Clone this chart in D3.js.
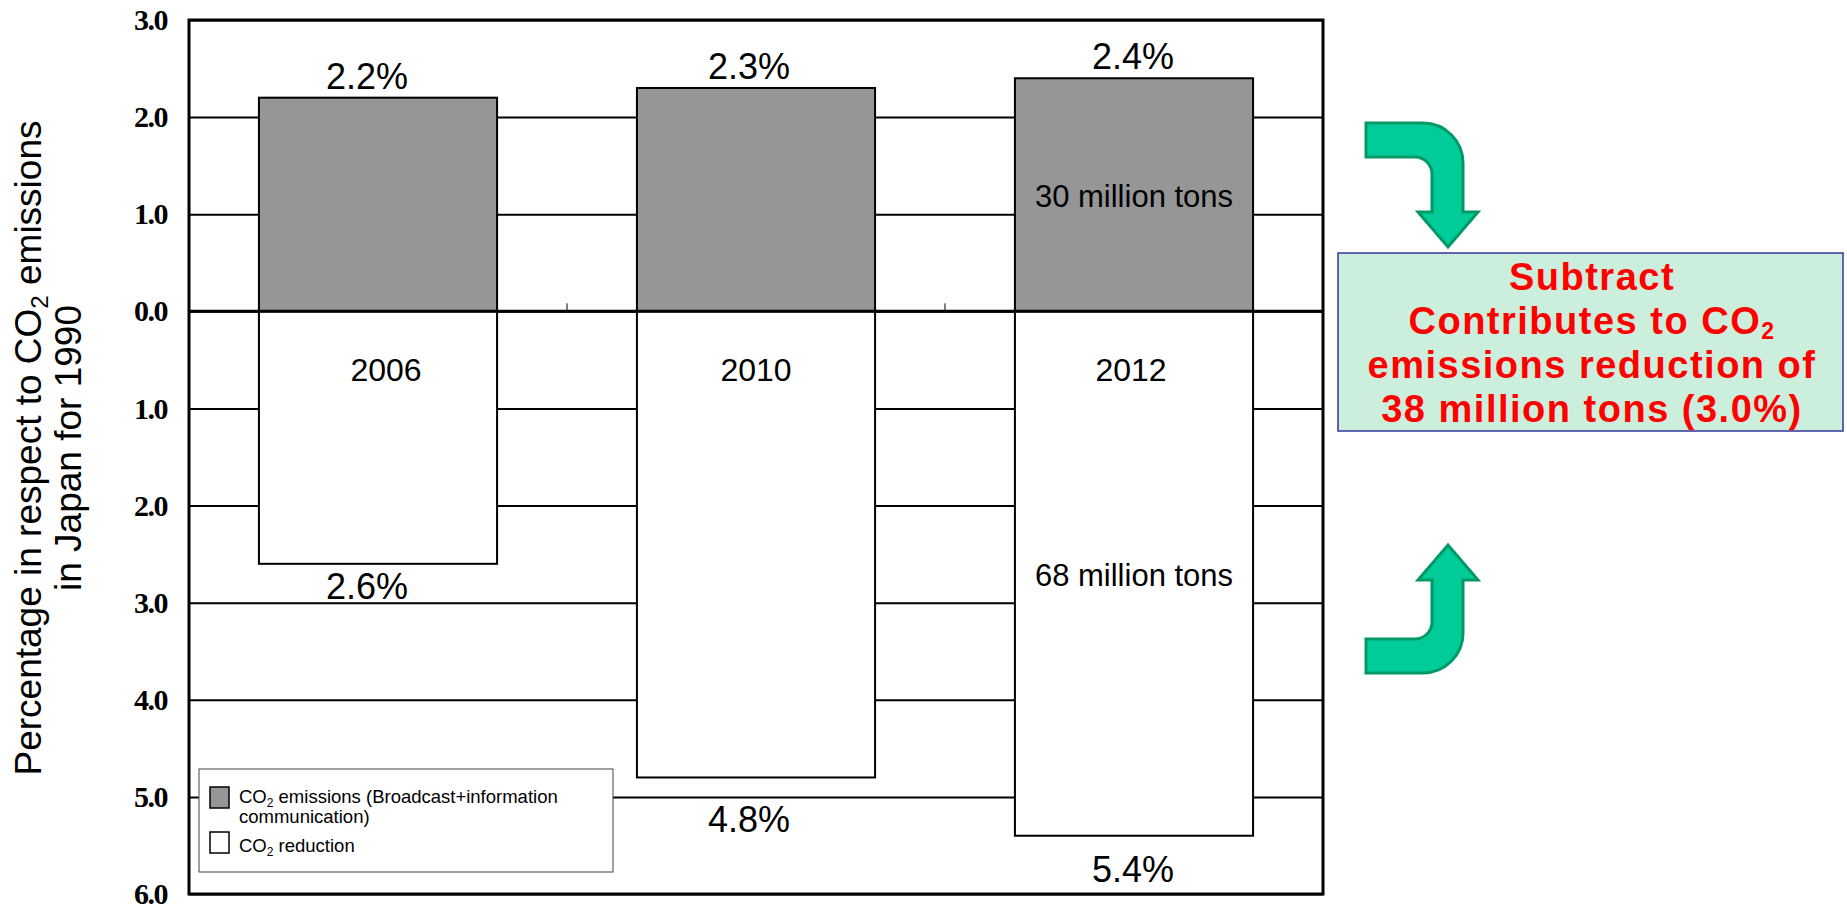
<!DOCTYPE html>
<html>
<head>
<meta charset="utf-8">
<script src="https://cdn.jsdelivr.net/npm/d3@7"></script>
<style>
  body { margin: 0; background: #fff; }
  svg { display: block; }
</style>
</head>
<body>
<svg id="chart" width="1847" height="910"></svg>
<script>
// ---- data ----
const categories = ["2006", "2010", "2012"];
const emissions = [2.2, 2.3, 2.4];          // CO2 emissions, % of Japan's 1990 total
const reductions = [2.6, 4.8, 5.4];         // CO2 reduction, % of Japan's 1990 total
const emissionLabels = ["2.2%", "2.3%", "2.4%"];
const reductionLabels = ["2.6%", "4.8%", "5.4%"];
const yTicks = [3, 2, 1, 0, -1, -2, -3, -4, -5, -6];
const tickLabels = ["3.0", "2.0", "1.0", "0.0", "1.0", "2.0", "3.0", "4.0", "5.0", "6.0"];
const tonsCategory = "2012";
const tonsLabels = ["30 million tons", "68 million tons"];
const summaryLines = ["Subtract", "Contributes to CO|2", "emissions reduction of", "38 million tons (3.0%)"];

// ---- layout ----
const plot = { left: 189, right: 1323, top: 20, bottom: 894 };
const valueNudge = [-11, -7, -1];      // horizontal shift of value labels
const bottomGap = [35, 55, 46];        // baseline distance below reduction bars
const yearNudge = [8, 0, -3];
const sans = "'Liberation Sans', Arial, sans-serif";

const svg = d3.select("#chart");

const x = d3.scaleBand()
  .domain(categories)
  .range([plot.left, plot.right])
  .paddingInner(0.37)
  .paddingOuter(0.185);

const y = d3.scaleLinear()
  .domain([3, -6])
  .range([plot.top, plot.bottom]);

// gridlines + tick labels
const axis = svg.append("g")
  .attr("transform", `translate(${plot.left},0)`)
  .call(d3.axisLeft(y)
    .tickValues(yTicks)
    .tickSize(-(plot.right - plot.left))
    .tickPadding(22)
    .tickFormat((d, i) => tickLabels[i]));
axis.select(".domain").remove();
axis.selectAll(".tick line").attr("stroke", "#000").attr("stroke-width", 2);
axis.selectAll(".tick text")
  .attr("fill", "#000")
  .style("font-family", "'Liberation Serif', 'Times New Roman', serif")
  .style("font-weight", "bold")
  .style("font-size", "30px")
  .style("letter-spacing", "-1.5px");

// emission bars (above zero)
svg.append("g").selectAll("rect")
  .data(categories)
  .join("rect")
  .attr("x", d => x(d))
  .attr("y", (d, i) => y(emissions[i]))
  .attr("width", x.bandwidth())
  .attr("height", (d, i) => y(0) - y(emissions[i]))
  .attr("fill", "#969696")
  .attr("stroke", "#000")
  .attr("stroke-width", 2);

// reduction bars (below zero)
svg.append("g").selectAll("rect")
  .data(categories)
  .join("rect")
  .attr("x", d => x(d))
  .attr("y", y(0))
  .attr("width", x.bandwidth())
  .attr("height", (d, i) => y(-reductions[i]) - y(0))
  .attr("fill", "#fff")
  .attr("stroke", "#000")
  .attr("stroke-width", 2);

// zero line with category separators
svg.append("line")
  .attr("x1", plot.left).attr("x2", plot.right)
  .attr("y1", y(0)).attr("y2", y(0))
  .attr("stroke", "#000").attr("stroke-width", 3);
svg.append("g").selectAll("line")
  .data(categories.slice(1))
  .join("line")
  .attr("x1", d => x(d) - (x.step() - x.bandwidth()) / 2)
  .attr("x2", d => x(d) - (x.step() - x.bandwidth()) / 2)
  .attr("y1", y(0)).attr("y2", y(0) - 8)
  .attr("stroke", "#000").attr("stroke-width", 1);

// plot frame
svg.append("rect")
  .attr("x", plot.left).attr("y", plot.top)
  .attr("width", plot.right - plot.left).attr("height", plot.bottom - plot.top)
  .attr("fill", "none").attr("stroke", "#000").attr("stroke-width", 3);

// value labels
const labels = svg.append("g").style("font-family", sans).attr("fill", "#000").attr("text-anchor", "middle");
labels.selectAll(".top")
  .data(categories)
  .join("text")
  .attr("class", "top")
  .attr("x", (d, i) => x(d) + x.bandwidth() / 2 + valueNudge[i])
  .attr("y", (d, i) => y(emissions[i]) - 9)
  .style("font-size", "36px")
  .text((d, i) => emissionLabels[i]);
labels.selectAll(".bottom")
  .data(categories)
  .join("text")
  .attr("class", "bottom")
  .attr("x", (d, i) => x(d) + x.bandwidth() / 2 + valueNudge[i])
  .attr("y", (d, i) => y(-reductions[i]) + bottomGap[i])
  .style("font-size", "36px")
  .text((d, i) => reductionLabels[i]);
labels.selectAll(".year")
  .data(categories)
  .join("text")
  .attr("class", "year")
  .attr("x", (d, i) => x(d) + x.bandwidth() / 2 + yearNudge[i])
  .attr("y", y(0) + 70)
  .style("font-size", "32px")
  .text(d => d);

const ti = categories.indexOf(tonsCategory);
labels.append("text")
  .attr("x", x(tonsCategory) + x.bandwidth() / 2)
  .attr("y", y(emissions[ti] / 2) + 12)
  .style("font-size", "31px")
  .text(tonsLabels[0]);
labels.append("text")
  .attr("x", x(tonsCategory) + x.bandwidth() / 2)
  .attr("y", y(-reductions[ti] / 2) + 12)
  .style("font-size", "31px")
  .text(tonsLabels[1]);

// helper: text with a subscript "2" after CO
function co2Text(sel, before, after, subSize) {
  sel.append("tspan").text(before + "CO");
  sel.append("tspan").attr("dy", subSize * 0.3).style("font-size", subSize + "px").text("2");
  sel.append("tspan").attr("dy", -subSize * 0.3).text(after);
}

// y axis title
const title = svg.append("g")
  .attr("transform", `translate(41,448) rotate(-90)`)
  .style("font-family", sans)
  .style("font-size", "37px")
  .attr("fill", "#000")
  .attr("text-anchor", "middle");
co2Text(title.append("text").attr("y", 0), "Percentage in respect to ", " emissions", 24);
title.append("text").attr("y", 40).text("in Japan for 1990");

// legend
const lg = svg.append("g").style("font-family", sans).style("font-size", "18.5px");
lg.append("rect").attr("x", 199).attr("y", 769).attr("width", 414).attr("height", 103)
  .attr("fill", "#fff").attr("stroke", "#444").attr("stroke-width", 1);
lg.append("rect").attr("x", 210).attr("y", 787).attr("width", 19).attr("height", 21)
  .attr("fill", "#969696").attr("stroke", "#000").attr("stroke-width", 1.5);
lg.append("rect").attr("x", 210).attr("y", 832).attr("width", 19).attr("height", 21)
  .attr("fill", "#fff").attr("stroke", "#000").attr("stroke-width", 1.5);
co2Text(lg.append("text").attr("x", 239).attr("y", 803), "", " emissions (Broadcast+information", 12);
lg.append("text").attr("x", 239).attr("y", 823).text("communication)");
co2Text(lg.append("text").attr("x", 239).attr("y", 852), "", " reduction", 12);

// bent arrows pointing at the summary box; bandTop sets the length of the shaft
function bentArrowPath(bandTop) {
  const p = d3.path();
  const bandBottom = bandTop + 34;
  p.moveTo(1366, bandTop);
  p.lineTo(1423, bandTop);
  p.arcTo(1463, bandTop, 1463, bandTop + 40, 40);
  p.lineTo(1463, 212);
  p.lineTo(1478, 212);
  p.lineTo(1448, 247);
  p.lineTo(1418, 212);
  p.lineTo(1432, 212);
  p.lineTo(1432, bandBottom + 17);
  p.arcTo(1432, bandBottom, 1415, bandBottom, 17);
  p.lineTo(1366, bandBottom);
  p.closePath();
  return p.toString();
}
const arrows = svg.append("g")
  .attr("fill", "#00CC99").attr("stroke", "#009966").attr("stroke-width", 3);
arrows.append("path").attr("d", bentArrowPath(123));
arrows.append("path").attr("d", bentArrowPath(119))
  .attr("transform", "translate(0,792) scale(1,-1)");

// summary box
svg.append("rect")
  .attr("x", 1338).attr("y", 253).attr("width", 505).attr("height", 178)
  .attr("fill", "#CCEEDD").attr("stroke", "#333399").attr("stroke-width", 1.5);
const summary = svg.append("text")
  .style("font-family", sans).style("font-weight", "bold").style("font-size", "38px")
  .style("letter-spacing", "1.5px")
  .attr("fill", "#FF0000").attr("text-anchor", "middle");
summaryLines.forEach((line, i) => {
  const [a, b] = line.split("|");
  summary.append("tspan").attr("x", 1592).attr("y", 290 + i * 44).text(a);
  if (b) summary.append("tspan").attr("dy", 4.5).style("font-size", "23px").text(b);
});
</script>
</body>
</html>
